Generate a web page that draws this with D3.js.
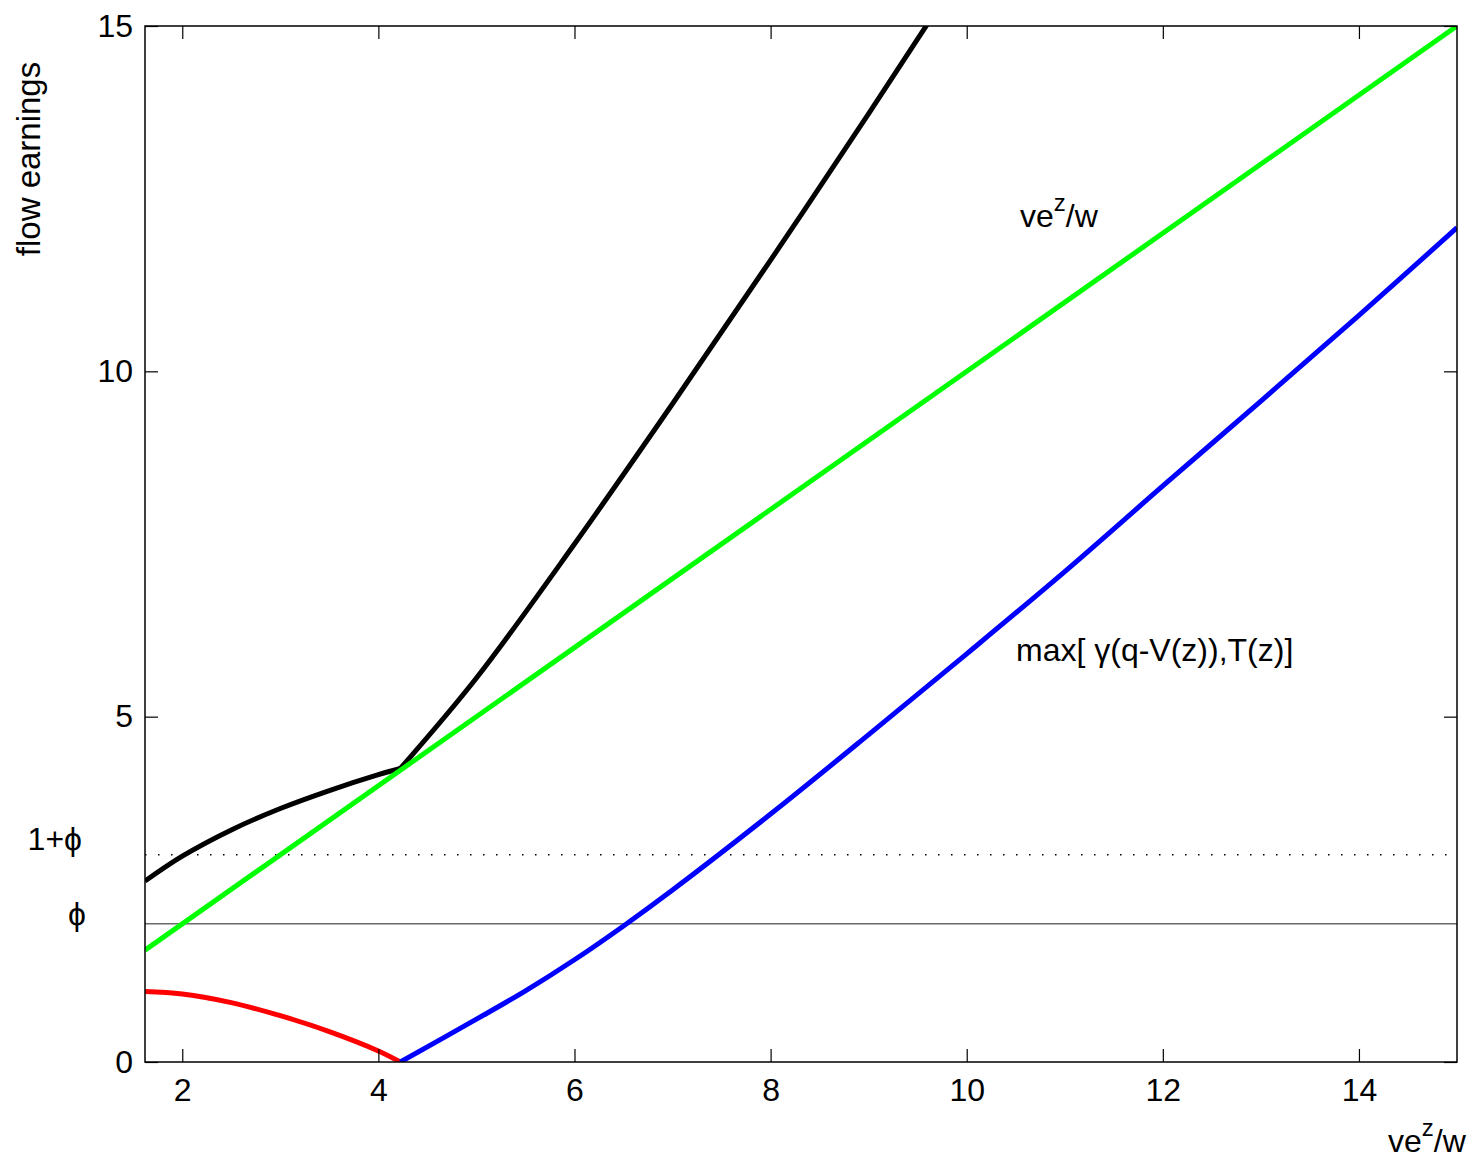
<!DOCTYPE html>
<html>
<head>
<meta charset="utf-8">
<script src="https://cdn.jsdelivr.net/npm/d3@7"></script>
<style>
  html, body { margin: 0; padding: 0; background: #fff; }
  text { font-family: "Liberation Sans", Arial, sans-serif; fill: #000; }
</style>
</head>
<body>
<svg id="chart" width="1478" height="1159"></svg>
<script>
// ---- data ----
const xDomain = [1.62, 15];
const yDomain = [0, 15];
const xTicks = [2, 4, 6, 8, 10, 12, 14];
const yTicks = [0, 5, 10, 15];
const phi = 2;
const onePlusPhi = 3;

// green: ve^z/w (45-degree line)
const greenX = [1.62, 15];
const greenY = [1.62, 15];

// black curve, below and above the kink
const blackLowX = [1.62, 2.0, 2.5, 3.0, 3.5, 4.0, 4.224];
const blackLowY = [2.62, 2.98, 3.36, 3.67, 3.93, 4.16, 4.25];
const blackHighX = [4.224, 5.0, 6.0, 7.0, 8.0, 9.0, 9.6, 10.0];
const blackHighY = [4.25, 5.56, 7.5, 9.53, 11.61, 13.73, 15.03, 15.9];

// red curve
const redX = [1.62, 2.0, 2.5, 3.0, 3.5, 4.0, 4.224];
const redY = [1.02, 0.985, 0.86, 0.67, 0.44, 0.16, 0.0];

// blue curve: max[γ(q-V(z)),T(z)]
const blueX = [4.224, 5, 5.5, 6, 6.5, 7, 8, 9, 10, 11, 12, 13, 14, 15];
const blueY = [0.0, 0.62, 1.03, 1.48, 1.97, 2.49, 3.59, 4.74, 5.91, 7.1, 8.34, 9.57, 10.81, 12.08];

// ---- layout ----
const L = 145, R = 1457, T = 26, B = 1062;
const FS = 32;
const svg = d3.select("#chart");
const x = d3.scaleLinear().domain(xDomain).range([L, R]);
const y = d3.scaleLinear().domain(yDomain).range([B, T]);

svg.append("defs").append("clipPath").attr("id", "plotclip")
  .append("rect").attr("x", L).attr("y", T).attr("width", R - L).attr("height", B - T);

const plot = svg.append("g").attr("clip-path", "url(#plotclip)");

// reference lines
plot.append("line")
  .attr("x1", x(xDomain[0])).attr("x2", x(xDomain[1]))
  .attr("y1", y(phi)).attr("y2", y(phi))
  .attr("stroke", "#6a6a6a").attr("stroke-width", 1.5);
plot.append("line")
  .attr("x1", x(xDomain[0])).attr("x2", x(xDomain[1]))
  .attr("y1", y(onePlusPhi)).attr("y2", y(onePlusPhi))
  .attr("stroke", "#000").attr("stroke-width", 1.5)
  .attr("stroke-dasharray", "1.5,11.5");

function zip(xs, ys) { return xs.map((v, i) => [v, ys[i]]); }
const smooth = d3.line().x(d => x(d[0])).y(d => y(d[1])).curve(d3.curveCatmullRom.alpha(0.5));
const straight = d3.line().x(d => x(d[0])).y(d => y(d[1]));

function curve(data, color, gen) {
  plot.append("path").attr("d", (gen || smooth)(data))
    .attr("fill", "none").attr("stroke", color).attr("stroke-width", 5)
    .attr("stroke-linejoin", "round").attr("stroke-linecap", "butt");
}
curve(zip(blackLowX, blackLowY), "#000");
curve(zip(blackHighX, blackHighY), "#000");
curve(zip(redX, redY), "#ff0000");
curve(zip(blueX, blueY), "#0000ff");
curve(zip(greenX, greenY), "#00ff00", straight);

// frame
svg.append("rect").attr("x", L).attr("y", T).attr("width", R - L).attr("height", B - T)
  .attr("fill", "none").attr("stroke", "#000").attr("stroke-width", 1.5);

// axes with inward ticks
const tl = 13;
const axB = d3.axisBottom(x).tickValues(xTicks).tickSize(-tl).tickPadding(16).tickFormat(d3.format("d"));
const axT = d3.axisTop(x).tickValues(xTicks).tickSize(-tl).tickFormat("");
const axL = d3.axisLeft(y).tickValues(yTicks).tickSize(-tl).tickPadding(12).tickFormat(d3.format("d"));
const axR = d3.axisRight(y).tickValues(yTicks).tickSize(-tl).tickFormat("");

function styleAxis(g) {
  g.select(".domain").remove();
  g.selectAll(".tick line").attr("stroke", "#000").attr("stroke-width", 1.2);
  g.selectAll(".tick text").attr("font-size", FS).attr("font-family", "Liberation Sans, Arial, sans-serif").attr("fill", "#000");
}
svg.append("g").attr("transform", `translate(0,${B})`).call(axB).call(styleAxis);
svg.append("g").attr("transform", `translate(0,${T})`).call(axT).call(styleAxis);
svg.append("g").attr("transform", `translate(${L},0)`).call(axL).call(styleAxis);
svg.append("g").attr("transform", `translate(${R},0)`).call(axR).call(styleAxis);

// y label
svg.append("text").attr("transform", "translate(40,159) rotate(-90)")
  .attr("text-anchor", "middle").attr("font-size", 33).text("flow earnings");

// phi labels
svg.append("text").attr("x", 82).attr("y", 850).attr("text-anchor", "end")
  .attr("font-size", FS).text("1+\u03D5");
svg.append("text").attr("x", 86).attr("y", 925).attr("text-anchor", "end")
  .attr("font-size", FS).text("\u03D5");

// in-plot labels
function veLabel(px, py) {
  const t = svg.append("text").attr("x", px).attr("y", py).attr("font-size", FS);
  t.append("tspan").text("ve");
  t.append("tspan").attr("dy", -16).attr("font-size", 24).text("z");
  t.append("tspan").attr("dy", 16).text("/w");
}
veLabel(1020, 227);
veLabel(1388, 1152);

svg.append("text").attr("x", 1016).attr("y", 661).attr("font-size", FS)
  .text("max[ \u03B3(q-V(z)),T(z)]");
</script>
</body>
</html>
